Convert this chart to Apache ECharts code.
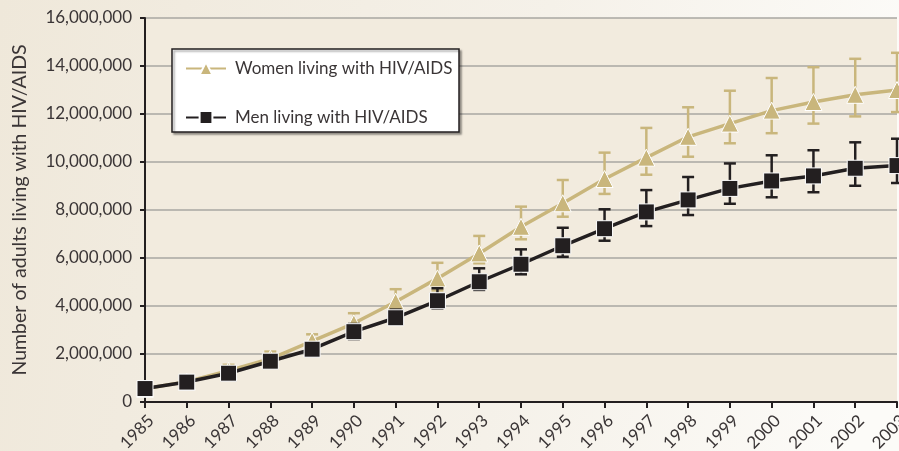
<!DOCTYPE html>
<html>
<head>
<meta charset="utf-8">
<script src="https://cdn.jsdelivr.net/npm/echarts@6/dist/echarts.min.js"></script>
<style>html,body{margin:0;padding:0;background:#f3ede2;}#c{width:899px;height:451px;}</style>
</head>
<body>
<div id="c"></div>
<script>
const years = ['1985','1986','1987','1988','1989','1990','1991','1992','1993','1994','1995','1996','1997','1998','1999','2000','2001','2002','2003'];
const women = [550000,850000,1300000,1800000,2540000,3280000,4180000,5150000,6190000,7300000,8280000,9290000,10180000,11050000,11600000,12140000,12500000,12800000,13000000];
const womenLow = [300000,650000,1050000,1550000,2250000,2900000,3750000,4650000,5780000,6780000,7720000,8670000,9470000,10220000,10780000,11200000,11600000,11900000,12080000];
const womenHigh = [700000,1050000,1550000,2100000,2820000,3700000,4700000,5800000,6920000,8140000,9250000,10390000,11420000,12280000,12970000,13500000,13950000,14300000,14550000];
const men = [560000,830000,1200000,1700000,2200000,2930000,3510000,4220000,5010000,5740000,6510000,7220000,7920000,8420000,8900000,9210000,9420000,9740000,9850000];
const menLow = [420000,680000,1020000,1500000,1950000,2620000,3240000,3900000,4670000,5320000,6050000,6720000,7330000,7790000,8260000,8530000,8740000,9010000,9125000];
const menHigh = [700000,1000000,1400000,1900000,2450000,3250000,3850000,4740000,5570000,6360000,7260000,8030000,8830000,9375000,9940000,10280000,10490000,10820000,10970000];
const yTicks = [0,2000000,4000000,6000000,8000000,10000000,12000000,14000000,16000000];

const womenColor = '#c9b67c';
const menColor = '#231f20';

function errData(low, high){ return low.map((l,i)=>[i,l,high[i]]); }
function errRender(color, width){
  return function(params, api){
    const x = api.value(0);
    const lo = api.coord([x, api.value(1)]);
    const hi = api.coord([x, api.value(2)]);
    const hw = 6;
    const st = {stroke: color, lineWidth: width};
    return {type:'group', children:[
      {type:'line', shape:{x1:lo[0],y1:lo[1],x2:hi[0],y2:hi[1]}, style:st},
      {type:'line', shape:{x1:lo[0]-hw,y1:lo[1],x2:lo[0]+hw,y2:lo[1]}, style:st},
      {type:'line', shape:{x1:hi[0]-hw,y1:hi[1],x2:hi[0]+hw,y2:hi[1]}, style:st}
    ]};
  };
}

const chart = echarts.init(document.getElementById('c'), null, {renderer:'canvas'});
const fmt = v => v.toLocaleString('en-US');
chart.setOption({
  animation:false,
  backgroundColor: new echarts.graphic.LinearGradient(0,0,1,0.3,[{offset:0,color:'#efe8da'},{offset:0.6,color:'#f5f1e9'},{offset:1,color:'#fcfbf8'}]),
  textStyle:{fontFamily:'Lato'},
  grid:{left:145, top:18, right:2, bottom:49, show:true, backgroundColor:'#f2ebde', borderWidth:0, containLabel:false, outerBoundsMode:'none'},
  graphic:[{type:'rect', z:3, shape:{x:172,y:49,width:287,height:83}, style:{fill:'#ffffff', stroke:'#231f20', lineWidth:1.5, shadowColor:'rgba(0,0,0,0.35)', shadowOffsetX:2, shadowOffsetY:2, shadowBlur:2}}],
  legend:{
    left:172, top:49, orient:'vertical', z:5,
    padding:[11,12,12,13], itemGap:32, itemWidth:40, itemHeight:16,
    textStyle:{fontFamily:'Lato', fontSize:17, color:'#3a3536', padding:[0,0,0,4]},
    data:['Women living with HIV/AIDS','Men living with HIV/AIDS']
  },
  xAxis:{
    type:'category', data:years, boundaryGap:false,
    axisLine:{lineStyle:{color:'#231f20', width:2}},
    axisTick:{show:true, length:6, lineStyle:{color:'#231f20', width:2}},
    axisLabel:{rotate:45, fontSize:17, color:'#3a3536', margin:10, verticalAlign:'top', fontFamily:'Lato', hideOverlap:false},
    splitLine:{show:false}
  },
  yAxis:{
    type:'value', min:0, max:16000000, interval:2000000,
    name:'Number of adults living with HIV/AIDS', nameLocation:'middle', nameGap:115,
    nameTextStyle:{fontSize:19.5, color:'#3a3536', fontFamily:'Lato'},
    axisLine:{show:true, lineStyle:{color:'#231f20', width:2}},
    axisTick:{show:true, length:5, lineStyle:{color:'#231f20', width:2}},
    axisLabel:{fontSize:17, color:'#3a3536', margin:13, fontFamily:'Lato', formatter: v => yTicks.includes(v) ? fmt(v) : ''},
    splitLine:{lineStyle:{color:'#a9a7a2', width:1.5}}
  },
  series:[
    {type:'custom', name:'womenErr', data:errData(womenLow, womenHigh), renderItem: errRender(womenColor, 2.5), z:2, silent:true},
    {type:'line', name:'Women living with HIV/AIDS', data:women, color:womenColor, z:3,
      lineStyle:{width:3.5, color:womenColor}, symbol:'triangle', symbolSize:17,
      itemStyle:{color:womenColor, borderColor:'#ffffff', borderWidth:1}},
    {type:'custom', name:'menErr', data:errData(menLow, menHigh), renderItem: errRender(menColor, 2.5), z:4, silent:true},
    {type:'line', name:'Men living with HIV/AIDS', data:men, color:menColor, z:5,
      lineStyle:{width:3.5, color:menColor}, symbol:'rect', symbolSize:16,
      itemStyle:{color:menColor, borderColor:'#ffffff', borderWidth:1}}
  ]
});
</script>
</body>
</html>
